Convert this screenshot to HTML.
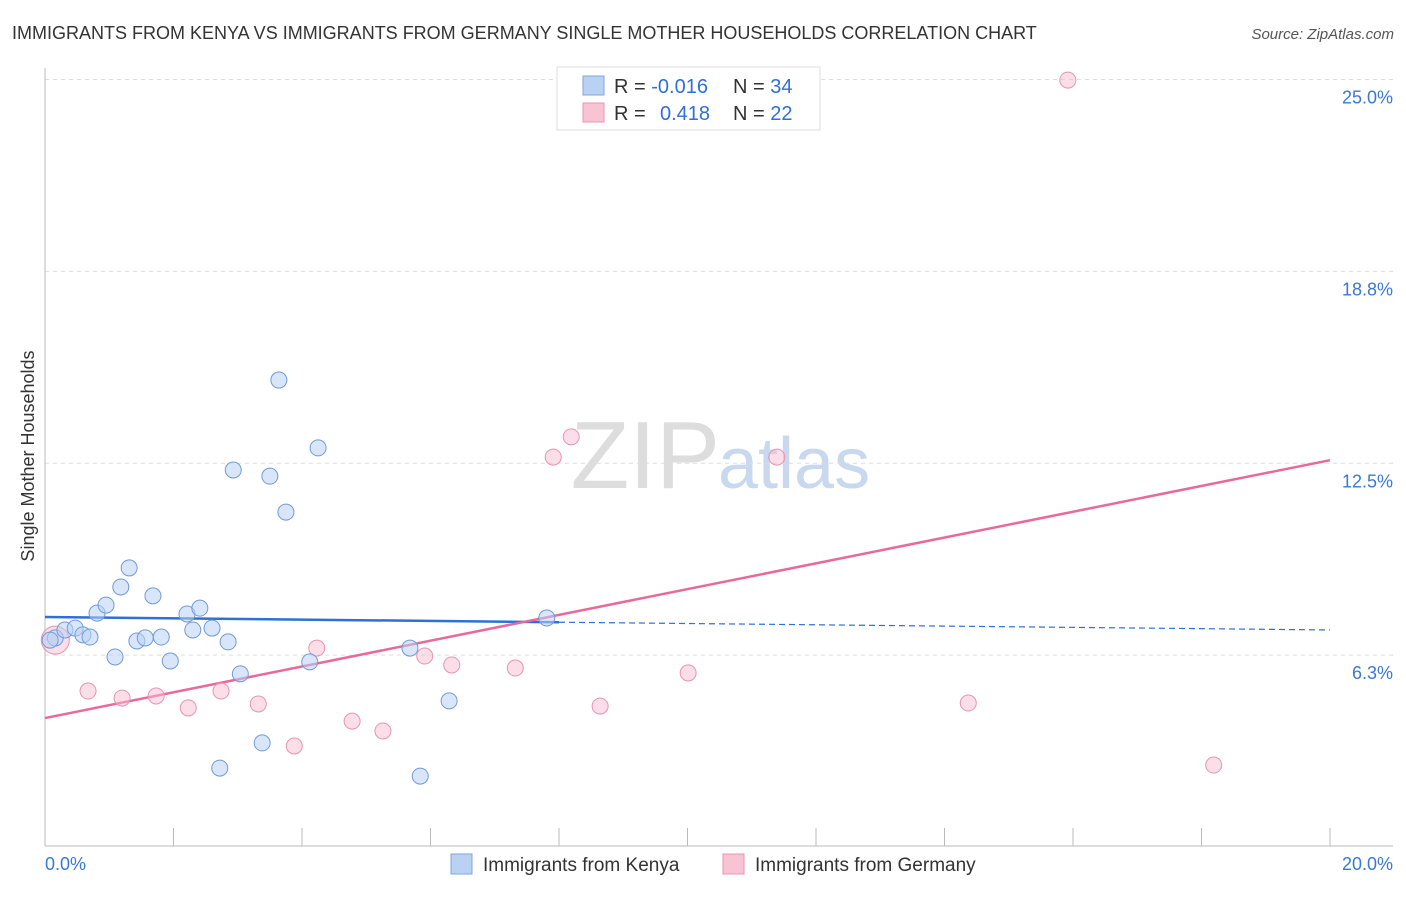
<!DOCTYPE html>
<html><head><meta charset="utf-8"><style>
body{margin:0;background:#fff;font-family:"Liberation Sans",sans-serif;}
svg text{font-family:"Liberation Sans",sans-serif;}
</style></head><body>
<svg id="chart" width="1406" height="892">
<text x="12" y="39" font-size="18" fill="#333">IMMIGRANTS FROM KENYA VS IMMIGRANTS FROM GERMANY SINGLE MOTHER HOUSEHOLDS CORRELATION CHART</text>
<text x="1394" y="39" font-size="15" fill="#555" font-style="italic" text-anchor="end">Source: ZipAtlas.com</text>
<text x="720" y="488" font-size="96" fill="#ddd" text-anchor="end" font-family="Liberation Serif">ZIP</text>
<text x="718" y="488" font-size="72" fill="#c8d8ee">atlas</text>
<text transform="translate(34,456) rotate(-90)" font-size="18" fill="#333" text-anchor="middle">Single Mother Households</text>
<g id="grid"></g><g id="axes"></g><g id="trend"></g><g id="pts"></g>
<g>
<rect x="557" y="67" width="263" height="63" fill="#fff" stroke="#ddd"/>
<rect x="583" y="76" width="21" height="19" fill="#b9d2f4" stroke="#7fa6dd"/>
<rect x="583" y="103" width="21" height="19" fill="#f8c4d4" stroke="#e894b0"/>
<text x="614" y="93" font-size="20" fill="#333">R = <tspan fill="#2f6fd6">-0.016</tspan></text>
<text x="733" y="93" font-size="20" fill="#333">N = <tspan fill="#2f6fd6">34</tspan></text>
<text x="614" y="120" font-size="20" fill="#333">R = <tspan fill="#2f6fd6" x="660">0.418</tspan></text>
<text x="733" y="120" font-size="20" fill="#333">N = <tspan fill="#2f6fd6">22</tspan></text>
</g>
<g>
<rect x="451" y="854" width="21" height="20" fill="#b9d2f4" stroke="#7fa6dd"/>
<text x="483" y="871" font-size="19" fill="#333">Immigrants from Kenya</text>
<rect x="723" y="854" width="21" height="20" fill="#f8c4d4" stroke="#e894b0"/>
<text x="755" y="871" font-size="19" fill="#333">Immigrants from Germany</text>
</g>
</svg>
<script>
const kenyaX=[0.16,0.31,0.47,0.59,0.70,0.81,0.95,1.09,1.18,1.31,1.43,1.56,1.68,1.81,1.95,2.21,2.30,2.41,2.60,2.72,2.85,2.93,3.04,3.38,3.50,3.64,3.75,4.12,4.25,5.68,5.84,6.29,7.81,0.08];
const kenyaY=[6.81,7.07,7.13,6.91,6.84,7.62,7.88,6.19,8.47,9.09,6.71,6.81,8.18,6.84,6.06,7.59,7.07,7.78,7.13,2.57,6.68,12.28,5.64,3.39,12.08,15.21,10.91,6.03,13.0,6.48,2.31,4.76,7.46,6.74];
const germanyX=[0.16,0.67,1.20,1.73,2.23,2.74,3.32,3.88,4.23,4.78,5.26,5.91,6.33,7.32,7.91,8.19,8.64,10.01,11.39,14.37,15.92,18.19];
const germanyY=[6.74,5.08,4.85,4.92,4.53,5.08,4.66,3.29,6.48,4.10,3.78,6.22,5.93,5.83,12.70,13.36,4.59,5.67,12.70,4.69,24.98,2.67];
const yTicks=[6.25,12.5,18.75,25];
const yTickLabels=["6.3%","12.5%","18.8%","25.0%"];
const xTicks=[0,2,4,6,8,10,12,14,16,18,20];
const kenyaTrend=[7.49,7.07];
const germanyTrend=[4.20,12.6];
const X=v=>45+v*64.25, Y=v=>847-v*30.7;
const NS="http://www.w3.org/2000/svg";
function mk(t,a,p){const e=document.createElementNS(NS,t);for(const k in a)e.setAttribute(k,a[k]);document.getElementById(p).appendChild(e);return e;}
yTicks.forEach((v,i)=>{
 const l=mk('line',{x1:45,x2:1393,y1:Y(v),y2:Y(v),stroke:'#ddd','stroke-dasharray':'4,4'},'grid');
 
 
 const t=mk('text',{x:1393,y:Y(v)+24,'font-size':18,fill:'#3a78d8','text-anchor':'end'},'axes');
 t.textContent=yTickLabels[i];
 
 
});
const ax=mk('line',{x1:45,x2:1393,y1:846,y2:846,stroke:'#bbb'},'axes');


const ay=mk('line',{x1:45,x2:45,y1:68,y2:846,stroke:'#bbb'},'axes');


xTicks.forEach(v=>{
 const l=mk('line',{x1:X(v),x2:X(v),y1:828,y2:846,stroke:'#bbb'},'axes');
 
 
});
[[0,"0.0%","start",45],[20,"20.0%","end",1393]].forEach(d=>{
 const t=mk('text',{x:d[3],y:870,'font-size':18,fill:'#3a78d8','text-anchor':d[2]},'axes');
 t.textContent=d[1];
 
 
});
function slopeAt(tr,x){return tr[0]+(tr[1]-tr[0])*x/20;}
const kb=mk('line',{x1:X(0),y1:Y(kenyaTrend[0]),x2:X(8),y2:Y(slopeAt(kenyaTrend,8)),stroke:'#2f6fd6','stroke-width':2.5},'trend');


const kd=mk('line',{x1:X(8),y1:Y(slopeAt(kenyaTrend,8)),x2:X(20),y2:Y(kenyaTrend[1]),stroke:'#2f6fd6','stroke-width':1.2,'stroke-dasharray':'6,4'},'trend');


const gl=mk('line',{x1:X(0),y1:Y(germanyTrend[0]),x2:X(20),y2:Y(germanyTrend[1]),stroke:'#e8699a','stroke-width':2.5},'trend');


germanyX.forEach((x,i)=>{
 const c=mk('circle',{cx:X(x),cy:Y(germanyY[i]),r:i==0?14:8,fill:'rgba(248,190,208,0.5)',stroke:'#e894b0','stroke-width':1},'pts');
 
 
});
kenyaX.forEach((x,i)=>{
 const c=mk('circle',{cx:X(x),cy:Y(kenyaY[i]),r:8,fill:'rgba(185,210,244,0.55)',stroke:'#6f9bd8','stroke-width':1},'pts');
 
 
});
</script>
</body></html>
